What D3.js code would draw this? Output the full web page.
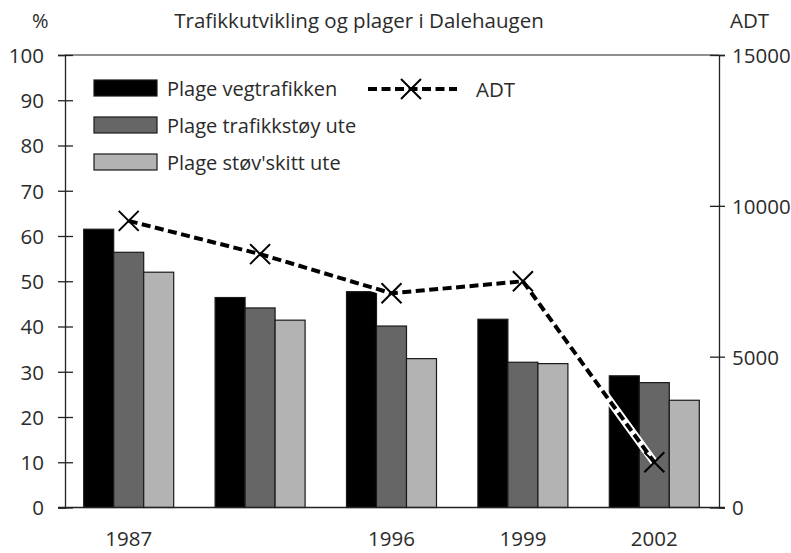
<!DOCTYPE html>
<html>
<head>
<meta charset="utf-8">
<script src="https://cdn.jsdelivr.net/npm/d3@7"></script>
<style>
  body { margin: 0; background: #fff; }
  svg { display: block; }
  text { font-family: "Open Sans", "DejaVu Sans", sans-serif; fill: #2b2b2b; }
</style>
</head>
<body>
<svg id="chart" width="791" height="553"></svg>
<script>
// Survey years (the second survey has no label on the axis)
const years = ["1987", "", "1996", "1999", "2002"];

// Share of residents annoyed (%)
const vegtrafikken = [61.5, 46.4, 47.7, 41.6, 29.1];
const trafikkstoy = [56.4, 44.1, 40.1, 32.1, 27.6];
const stovSkitt = [52.0, 41.4, 32.9, 31.8, 23.7];

// Average daily traffic
const adt = [9500, 8400, 7100, 7500, 1500];

const seriesNames = ["Plage vegtrafikken", "Plage trafikkstøy ute", "Plage støv'skitt ute"];
const seriesColors = ["#000000", "#666666", "#b3b3b3"];

const pctTicks = [0, 10, 20, 30, 40, 50, 60, 70, 80, 90, 100];
const adtTicks = [0, 5000, 10000, 15000];

const svg = d3.select("#chart");

const plotLeft = 65, plotRight = 719, plotTop = 55, plotBottom = 507.5;

const x = d3.scaleBand()
  .domain(d3.range(years.length))
  .range([63, 720])
  .paddingInner(0.315)
  .paddingOuter(0.1575);

const xSub = d3.scaleBand()
  .domain(d3.range(3))
  .range([0, x.bandwidth()]);

const yL = d3.scaleLinear().domain([0, 100]).range([plotBottom, plotTop]);
const yR = d3.scaleLinear().domain([0, 15000]).range([plotBottom, plotTop]);

const axisColor = "#222";
const textColor = "#2b2b2b";

// Bars
const seriesData = [vegtrafikken, trafikkstoy, stovSkitt];
const groups = svg.append("g").selectAll("g")
  .data(years.map((y, i) => i))
  .join("g")
  .attr("transform", i => `translate(${x(i)},0)`);

groups.selectAll("rect")
  .data(i => seriesData.map((s, k) => ({ k, v: s[i] })))
  .join("rect")
  .attr("x", d => xSub(d.k))
  .attr("width", xSub.bandwidth())
  .attr("y", d => yL(d.v))
  .attr("height", d => yL(0) - yL(d.v))
  .attr("fill", d => seriesColors[d.k])
  .attr("stroke", "#1a1a1a")
  .attr("stroke-width", 1.2);

// Frame: top border
svg.append("line")
  .attr("x1", plotLeft).attr("x2", plotRight)
  .attr("y1", plotTop).attr("y2", plotTop)
  .attr("stroke", axisColor).attr("stroke-width", 1.2);

// Left axis
const gL = svg.append("g")
  .attr("transform", `translate(${plotLeft},0)`)
  .call(d3.axisLeft(yL).tickValues(pctTicks).tickSizeOuter(0).tickSize(7).tickPadding(14));
gL.select(".domain").attr("stroke", axisColor).attr("stroke-width", 1.3);
gL.selectAll(".tick line").attr("x1", 8).attr("stroke", axisColor).attr("stroke-width", 1.3);
gL.selectAll(".tick text")
  .attr("font-size", 20.5)
  .attr("font-family", "'Open Sans', sans-serif")
  .attr("fill", textColor)
  .attr("dy", "0.36em");

// Right axis
const gR = svg.append("g")
  .attr("transform", `translate(${plotRight},0)`)
  .call(d3.axisRight(yR).tickValues(adtTicks).tickFormat(d3.format("d"))
    .tickSizeOuter(0).tickSize(6).tickPadding(7));
gR.select(".domain").attr("stroke", axisColor).attr("stroke-width", 1.3);
gR.selectAll(".tick line").attr("x1", -9).attr("stroke", axisColor).attr("stroke-width", 1.3);
gR.selectAll(".tick text")
  .attr("font-size", 20.5)
  .attr("font-family", "'Open Sans', sans-serif")
  .attr("fill", textColor)
  .attr("dy", "0.36em");

// Bottom axis
const gB = svg.append("g")
  .attr("transform", `translate(0,${plotBottom})`)
  .call(d3.axisBottom(x).tickFormat(i => years[i]).tickSize(0).tickPadding(24));
gB.select(".domain").remove();
gB.selectAll(".tick text")
  .attr("font-size", 20.5)
  .attr("font-family", "'Open Sans', sans-serif")
  .attr("fill", textColor);
svg.append("line")
  .attr("x1", 58).attr("x2", 725)
  .attr("y1", plotBottom).attr("y2", plotBottom)
  .attr("stroke", axisColor).attr("stroke-width", 1.4);

// ADT line: white halo underneath, black dashes on top
const cx = i => x(i) + x.bandwidth() / 2;
const line = d3.line().x((d, i) => cx(i)).y(d => yR(d));

svg.append("path")
  .datum(adt)
  .attr("d", line)
  .attr("fill", "none")
  .attr("stroke", "#fff")
  .attr("stroke-width", 8);

svg.append("path")
  .datum(adt)
  .attr("d", line)
  .attr("fill", "none")
  .attr("stroke", "#000")
  .attr("stroke-width", 4)
  .attr("stroke-dasharray", "9,4.5");

const xMark = "M-10,-10L10,10M10,-10L-10,10";
svg.append("g").selectAll("path")
  .data(adt)
  .join("path")
  .attr("transform", (d, i) => `translate(${cx(i)},${yR(d)})`)
  .attr("d", xMark)
  .attr("fill", "none")
  .attr("stroke", "#000")
  .attr("stroke-width", 2);

// Legend
const legend = svg.append("g");
seriesNames.forEach((name, k) => {
  const ly = 80 + k * 37;
  legend.append("rect")
    .attr("x", 94).attr("y", ly)
    .attr("width", 63).attr("height", 16)
    .attr("fill", seriesColors[k])
    .attr("stroke", "#1a1a1a").attr("stroke-width", 1.2);
  legend.append("text")
    .attr("x", 167).attr("y", ly + 15.5)
    .attr("font-size", 20)
    .text(name);
});
legend.append("line")
  .attr("x1", 368).attr("x2", 457)
  .attr("y1", 89).attr("y2", 89)
  .attr("stroke", "#000").attr("stroke-width", 4)
  .attr("stroke-dasharray", "9,4.5");
legend.append("path")
  .attr("transform", "translate(411,89)")
  .attr("d", xMark)
  .attr("fill", "none").attr("stroke", "#000").attr("stroke-width", 2);
legend.append("text")
  .attr("x", 476).attr("y", 97)
  .attr("font-size", 20.5)
  .text("ADT");

// Titles
svg.append("text")
  .attr("x", 359).attr("y", 28)
  .attr("text-anchor", "middle")
  .attr("font-size", 20.5)
  .text("Trafikkutvikling og plager i Dalehaugen");
svg.append("text")
  .attr("x", 32).attr("y", 28)
  .attr("font-size", 20)
  .text("%");
svg.append("text")
  .attr("x", 730).attr("y", 28)
  .attr("font-size", 20.5)
  .text("ADT");
</script>
</body>
</html>
